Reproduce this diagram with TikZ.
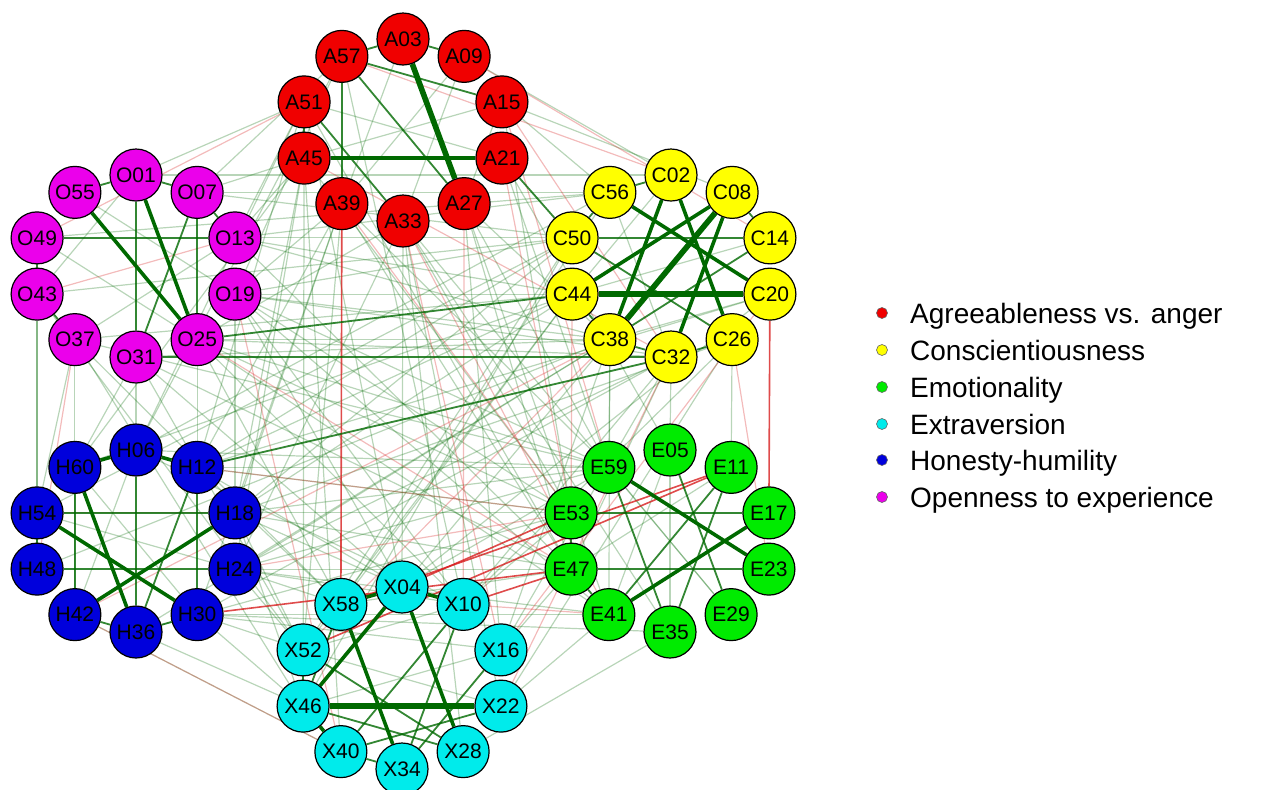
\documentclass[tikz,border=0pt]{standalone}
\usepackage{fontspec}
\setmainfont{Liberation Sans}
\usetikzlibrary{positioning}
\pgfdeclarelayer{background}
\pgfsetlayers{background,main}
\definecolor{agree}{RGB}{240,0,0}
\definecolor{consc}{RGB}{255,255,0}
\definecolor{emot}{RGB}{0,235,0}
\definecolor{extra}{RGB}{0,235,235}
\definecolor{honest}{RGB}{0,0,220}
\definecolor{openn}{RGB}{235,0,235}
\definecolor{pos}{RGB}{0,105,0}
\definecolor{neg}{RGB}{215,30,30}
\tikzset{
  trait/.style={circle, draw=black, line width=0.6pt, minimum size=26pt, inner sep=0pt,
    font=\fontsize{10.5}{12}\selectfont},
  key/.style={circle, draw=black!60, line width=0.3pt, minimum size=5.5pt, inner sep=0pt},
  keytext/.style={font=\fontsize{14}{16}\selectfont, inner sep=0pt, anchor=west,
    text height=13pt, text depth=3pt},
  weak/.style={draw=pos, opacity=0.28, line width=0.6pt},
  weakneg/.style={draw=neg, opacity=0.3, line width=0.6pt},
  mid/.style={draw=pos, opacity=0.8, line width=0.9pt},
  midneg/.style={draw=neg, opacity=0.8, line width=0.8pt},
  strong/.style={draw=pos, line width=1.8pt},
  vstrong/.style={draw=pos, line width=2.8pt}
}
\begin{document}
\begin{tikzpicture}[x=0.5pt,y=-0.5pt]
    \useasboundingbox (0,0) rectangle (1266,789);

    \foreach \n [count=\k from 0] in {03,09,15,21,27,33,39,45,51,57}
        \node[trait,fill=agree] (A\n) at ({403+104*cos(90-36*\k)},{130-91*sin(90-36*\k)}) {A\n};
    \foreach \n [count=\k from 0] in {02,08,14,20,26,32,38,44,50,56}
        \node[trait,fill=consc] (C\n) at ({671+104*cos(90-36*\k)},{266-91*sin(90-36*\k)}) {C\n};
    \foreach \n [count=\k from 0] in {05,11,17,23,29,35,41,47,53,59}
        \node[trait,fill=emot] (E\n) at ({670+104*cos(90-36*\k)},{541-91*sin(90-36*\k)}) {E\n};
    \foreach \n [count=\k from 0] in {04,10,16,22,28,34,40,46,52,58}
        \node[trait,fill=extra] (X\n) at ({402+104*cos(90-36*\k)},{678-91*sin(90-36*\k)}) {X\n};
    \foreach \n [count=\k from 0] in {06,12,18,24,30,36,42,48,54,60}
        \node[trait,fill=honest] (H\n) at ({136+104*cos(90-36*\k)},{541-91*sin(90-36*\k)}) {H\n};
    \foreach \n [count=\k from 0] in {01,07,13,19,25,31,37,43,49,55}
        \node[trait,fill=openn] (O\n) at ({136+104*cos(90-36*\k)},{266-91*sin(90-36*\k)}) {O\n};

    \begin{pgfonlayer}{background}
        \foreach \a/\b in {O07/A57,O01/A51,O13/A45,O19/A39,O07/A45,O13/A51,O25/A33,O19/A57,
            O07/C56,O13/C50,O19/C44,O25/C38,O13/C56,O07/C50,O19/C32,O13/C38,O01/C02,
            O13/C44,O19/C38,O25/C32,O19/C50,O31/C38,O37/C44,O43/C50,O49/C56,
            O19/E53,O25/E59,O13/E47,O25/E41,O19/E59,O25/E53,O31/E47,O19/E41,O37/E59,
            O25/X58,O31/X52,O19/X04,O25/X10,O37/X46,O31/X04,O37/X58,O43/X52,O19/X10,
            O37/H54,O43/H48,O31/H60,O25/H12,O31/H06,O37/H42,O43/H54,O19/H18,
            A15/C56,A09/C02,A27/C38,A15/C08,A27/E59,A33/E53,A21/E05,A39/E47,A27/E41,A33/E35,
            A33/E29,A27/E47,A21/E59,A15/E53,A45/E53,A39/E59,A51/E47,
            A33/X04,A27/X16,A45/X46,A33/X22,A39/X52,A45/X40,A33/X28,A57/X10,A51/X04,
            A39/H12,A45/H18,A51/H06,A33/H24,A45/H60,A39/H30,A51/H12,A45/H24,A39/H18,A57/H06,
            C32/E05,C38/E59,C26/E11,C32/E47,C38/E41,
            C38/X04,C44/X58,C32/X10,C50/X52,C38/X16,C26/X22,C44/X52,C50/X46,C26/X10,C20/X04,C32/X16,C56/X58,
            C44/H12,C50/H18,C38/H24,C56/H06,C32/H30,C44/H60,C50/H54,C38/H48,
            C44/H18,C50/H12,C32/H24,C38/H36,C26/H18,C20/H12,
            E53/X10,E47/X16,E59/X04,E41/X22,E35/X28,E47/X58,
            E59/H12,E53/H18,E47/H24,E41/H30,E53/H36,E59/H06,E59/H18,E53/H12,E47/H18,E41/H24,E35/H30,E59/H24,
            X52/H30,X58/H24,X46/H36,X52/H18,X04/H12,X10/H06,X40/H42,X46/H30,
            X58/H12,X52/H24,X46/H18,X04/H18,X10/H24,X16/H30,
            A51/A21,A09/A39,A15/A45,A03/A39,A09/A33,A15/A27,C56/C32,C02/C44,C14/C44,C20/C38,
            E05/E41,E59/E29,E11/E47,E05/E35,X52/X22,X16/X46,X10/X52,H54/H24,H06/H42,H60/H30,
            O55/O19,O49/O25,O37/O13,O01/O43}
            \draw[weak] (\a) -- (\b);
        \foreach \a/\b in {A27/X10,A33/X16,A21/E53,A15/E59,A09/C14,A57/C02,A15/C32,C38/X52,C32/X22,
            E53/H24,H54/H18,O43/O13,A51/O49,E41/X10,C26/E23,A39/E53,H42/X40,O37/H48,C44/E53,
            O25/E47,H12/E53,C38/H42,A33/E41,A45/C32,X16/C20,O19/X40}
            \draw[weakneg] (\a) -- (\b);
        \foreach \a/\b in {A39/X58,C20/E17,E11/X58,E11/X52,E53/X04,E47/X10,E47/H30}
            \draw[midneg] (\a) -- (\b);
        \foreach \a/\b in {A21/C50,O31/C32,O25/C44,H12/C32,
            A57/A15,A57/A27,A51/A33,A03/A09,A57/A03,A39/A57,A45/A51,
            C50/C14,C14/C38,C38/C32,C32/C26,C56/C02,C56/C50,C44/C38,C08/C14,C50/C26,
            E05/E29,E59/E35,E11/E41,E53/E17,E47/E23,E11/E35,E41/E47,E53/E47,
            X52/X28,X46/X28,X10/X34,X10/X40,X16/X34,X40/X22,X58/X46,X52/X46,X40/X34,
            H48/H24,H12/H36,H06/H36,H60/H42,H12/H30,H54/H48,H42/H36,H36/H30,H54/H18,
            O49/O13,O07/O31,O01/O31,O07/O25,O55/O01,O01/O07,O49/O43,O43/O37,O13/O07}
            \draw[mid] (\a) -- (\b);
        \foreach \a/\b in {A45/A21,C08/C44,C02/C38,C56/C20,C02/C26,C08/C32,E59/E23,E17/E41,
            X58/X04,X04/X10,X58/X34,X04/X46,X04/X28,X46/X40,
            H60/H06,H06/H12,H60/H36,H54/H30,H18/H42,O01/O25,O55/O25}
            \draw[strong] (\a) -- (\b);
        \foreach \a/\b in {A03/A27,C44/C20,C08/C38,X46/X22}
            \draw[vstrong] (\a) -- (\b);
    \end{pgfonlayer}

    \node[key,fill=agree] (kA) at (882,313) {};
    \node[key,fill=consc] (kC) at (882,350) {};
    \node[key,fill=emot] (kE) at (882,387) {};
    \node[key,fill=extra] (kX) at (882,424) {};
    \node[key,fill=honest] (kH) at (882,460) {};
    \node[key,fill=openn] (kO) at (882,497) {};
    \node[keytext, right=11pt of kA] (tA) {Agreeableness vs. anger};
    \node[keytext, right=11pt of kC] (tC) {Conscientiousness};
    \node[keytext, right=11pt of kE] (tE) {Emotionality};
    \node[keytext, right=11pt of kX] (tX) {Extraversion};
    \node[keytext, right=11pt of kH] (tH) {Honesty-humility};
    \node[keytext, right=11pt of kO] (tO) {Openness to experience};
\end{tikzpicture}
\end{document}
